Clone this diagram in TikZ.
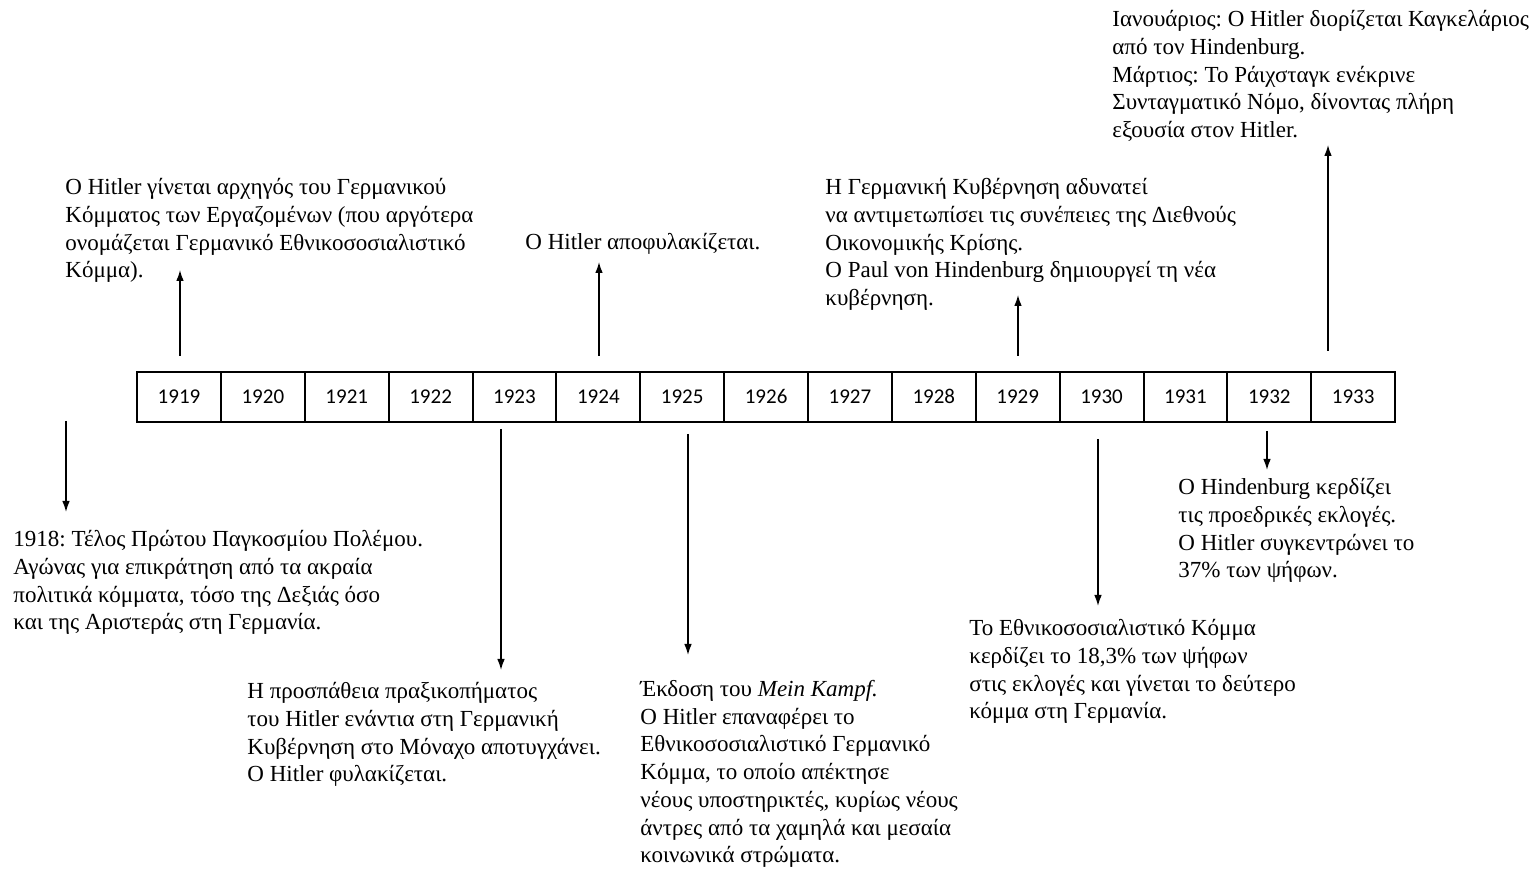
\documentclass[tikz,border=0pt]{standalone}
\usepackage{fontspec}
\setmainfont{Liberation Serif}
\newfontfamily\yearfont{Carlito}
\usetikzlibrary{arrows.meta}
\frenchspacing

\tikzset{
    year box/.style={
        draw,line width=1pt,
        minimum width=41.93pt,minimum height=25pt,inner sep=0pt,
        text height=7pt,text depth=0pt,
        font=\yearfont\fontsize{10.5}{12}\selectfont
    },
    event text/.style={
        anchor=north west,align=left,inner sep=0pt,
        font=\fontsize{11.5}{13.85}\selectfont
    },
    event arrow/.style={->,line width=.7pt}
}

\begin{document}
\begin{tikzpicture}[x=.5pt,y=-.5pt,>={Latex[length=5.5pt,width=3.8pt]}]
        \useasboundingbox (0,0) rectangle (1537,870);
        \foreach \i in {0,...,14}
            \pgfmathtruncatemacro{\yr}{1919+\i}
            \node[year box] (y\yr) at (179+83.87*\i,397) {\yr};
        % events above the line
        \node[event text] (t1919) at (65,178) {O Hitler γίνεται αρχηγός του Γερμανικού\\Κόμματος των Εργαζομένων (που αργότερα\\ονομάζεται Γερμανικό Εθνικοσοσιαλιστικό\\Κόμμα).};
        \node[event text] (t1924) at (525,233) {O Hitler αποφυλακίζεται.};
        \node[event text] (t1929) at (825,178) {Η Γερμανική Κυβέρνηση αδυνατεί\\να αντιμετωπίσει τις συνέπειες της Διεθνούς\\Οικονομικής Κρίσης.\\O Paul von Hindenburg δημιουργεί τη νέα\\κυβέρνηση.};
        \node[event text] (t1933) at (1112,10) {Ιανουάριος: O Hitler διορίζεται Καγκελάριος\\από τον Hindenburg.\\Μάρτιος: Το Ράιχσταγκ ενέκρινε\\Συνταγματικό Νόμο, δίνοντας πλήρη\\εξουσία στον Hitler.};
        % events below the line
        \node[event text] (t1918) at (13,530) {1918: Τέλος Πρώτου Παγκοσμίου Πολέμου.\\Αγώνας για επικράτηση από τα ακραία\\πολιτικά κόμματα, τόσο της Δεξιάς όσο\\και της Αριστεράς στη Γερμανία.};
        \node[event text] (t1923) at (247,682) {Η προσπάθεια πραξικοπήματος\\του Hitler ενάντια στη Γερμανική\\Κυβέρνηση στο Μόναχο αποτυγχάνει.\\O Hitler φυλακίζεται.};
        \node[event text] (t1925) at (640,680) {Έκδοση του \textit{Mein Kampf.}\\O Hitler επαναφέρει το\\Εθνικοσοσιαλιστικό Γερμανικό\\Κόμμα, το οποίο απέκτησε\\νέους υποστηρικτές, κυρίως νέους\\άντρες από τα χαμηλά και μεσαία\\κοινωνικά στρώματα.};
        \node[event text] (t1930) at (969,619) {Το Εθνικοσοσιαλιστικό Κόμμα\\κερδίζει το 18,3\% των ψήφων\\στις εκλογές και γίνεται το δεύτερο\\κόμμα στη Γερμανία.};
        \node[event text] (t1932) at (1178,478) {O Hindenburg κερδίζει\\τις προεδρικές εκλογές.\\O Hitler συγκεντρώνει το\\37\% των ψήφων.};
        % arrow ends
        \coordinate (a1918) at (66,512);
        \coordinate (a1919) at (180,270);
        \coordinate (a1923) at (501,670);
        \coordinate (a1924) at (599,262);
        \coordinate (a1925) at (688,655);
        \coordinate (a1929) at (1018,295);
        \coordinate (a1930) at (1098,606);
        \coordinate (a1932) at (1267,470);
        \coordinate (a1933) at (1328,145);
        \draw[event arrow,shorten <=-1pt] (a1918 |- y1919.south) -- (a1918);
        \draw[event arrow,shorten <=7.5pt] (a1919 |- y1919.north) -- (a1919);
        \draw[event arrow,shorten <=3pt] (a1923 |- y1923.south) -- (a1923);
        \draw[event arrow,shorten <=7.5pt] (a1924 |- y1924.north) -- (a1924);
        \draw[event arrow,shorten <=5.5pt] (a1925 |- y1925.south) -- (a1925);
        \draw[event arrow,shorten <=7.5pt] (a1929 |- y1929.north) -- (a1929);
        \draw[event arrow,shorten <=8pt] (a1930 |- y1930.south) -- (a1930);
        \draw[event arrow,shorten <=4pt] (a1932 |- y1932.south) -- (a1932);
        \draw[event arrow,shorten <=10pt] (a1933 |- y1933.north) -- (a1933);
    \end{tikzpicture}
\end{document}
